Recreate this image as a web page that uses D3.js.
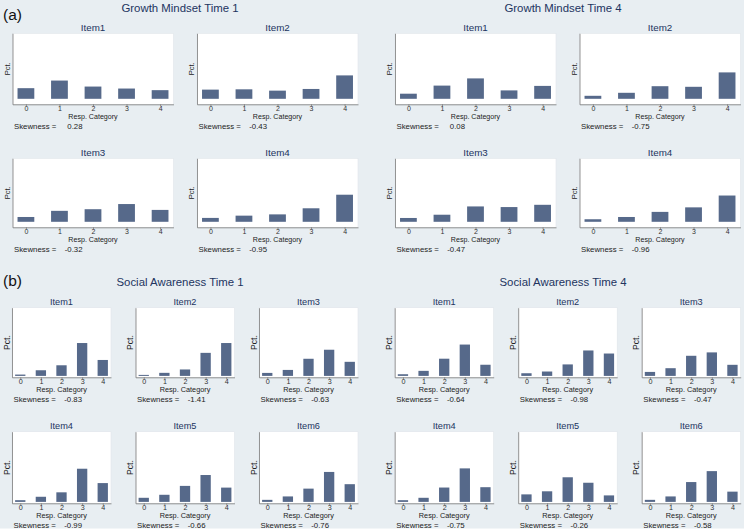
<!DOCTYPE html>
<html lang="en">
<head>
    <meta charset="utf-8">
    <style>
        body { margin: 0; background: #fff; }
        svg { display: block; font-family: "Liberation Sans", Arial, sans-serif; }
        .bar { fill: #56698a; }
        .axis path, .axis line { stroke: #7a7a7a; stroke-width: 0.8; }
        .axis text { fill: #333; }
    </style>
    <script src="https://cdn.jsdelivr.net/npm/d3@7"></script>
</head>
<body>
    <svg id="chart" width="744" height="531"></svg>
<script>
    // response categories
    var cats = [0, 1, 2, 3, 4];

    // percent per category
    var gmT1Items = ["Item1", "Item2", "Item3", "Item4"];
    var gmT1 = [
        [17.7, 30.4, 20.4, 17.1, 14.4],
        [15.3, 15.8, 13.6, 16.4, 39.0],
        [8.3, 18.9, 21.7, 30.6, 20.5],
        [6.7, 10.6, 12.8, 23.3, 46.7]
    ];
    var gmT1Skew = ["0.28", "-0.43", "-0.32", "-0.95"];

    var gmT4Items = ["Item1", "Item2", "Item3", "Item4"];
    var gmT4 = [
        [8.5, 22.0, 34.0, 14.0, 21.5],
        [5.0, 10.0, 21.0, 20.0, 44.0],
        [6.6, 12.2, 26.5, 25.4, 29.3],
        [4.4, 8.3, 17.1, 24.9, 45.3]
    ];
    var gmT4Skew = ["0.08", "-0.75", "-0.47", "-0.96"];

    var saT1Items = ["Item1", "Item2", "Item3", "Item4", "Item5", "Item6"];
    var saT1 = [
        [2.0, 8.5, 16.0, 49.5, 24.0],
        [1.5, 4.6, 9.7, 34.7, 49.5],
        [4.5, 9.0, 25.8, 39.4, 21.2],
        [2.5, 7.5, 14.0, 48.5, 27.5],
        [6.0, 10.4, 23.4, 39.3, 20.9],
        [3.0, 8.0, 19.4, 43.8, 25.9]
    ];
    var saT1Skew = ["-0.83", "-1.41", "-0.63", "-0.99", "-0.66", "-0.76"];

    var saT4Items = ["Item1", "Item2", "Item3", "Item4", "Item5", "Item6"];
    var saT4 = [
        [2.5, 7.6, 25.9, 47.2, 16.8],
        [4.0, 6.6, 17.3, 38.3, 33.7],
        [6.0, 11.6, 30.3, 35.4, 16.7],
        [2.5, 6.0, 21.0, 49.0, 21.5],
        [11.0, 15.5, 36.0, 28.0, 9.5],
        [3.0, 8.0, 29.0, 45.0, 15.0]
    ];
    var saT4Skew = ["-0.64", "-0.98", "-0.47", "-0.75", "-0.26", "-0.58"];

    var svg = d3.select("#chart");

    svg.append("rect")
       .attr("width", 744).attr("height", 528.5)
       .attr("fill", "#e8eef2");

    var navy = "#22345f";

    // one small histogram
    function drawPanel(x0, top, bottom, w, pad, vals, name, skew, big) {
        var g = svg.append("g").attr("transform", "translate(" + x0 + "," + top + ")");
        var h = bottom - top;

        var x = d3.scaleLinear().domain([-0.4, 4.4]).range([0, w]);
        var y = d3.scaleLinear().domain([0, 100]).range([h - pad[1], pad[0]]);

        g.append("rect")
         .attr("width", w).attr("height", h)
         .attr("fill", "#fff")
         .attr("stroke", "#dfe5ea").attr("stroke-width", 0.6);

        g.selectAll(".bar")
         .data(vals)
         .enter().append("rect")
         .attr("class", "bar")
         .attr("x", function(d, i) { return x(cats[i] - 0.25); })
         .attr("width", x(0.5) - x(0))
         .attr("y", function(d) { return y(d); })
         .attr("height", function(d) { return y(0) - y(d); });

        g.append("g")
         .attr("class", "axis")
         .attr("transform", "translate(0," + h + ")")
         .call(d3.axisBottom(x).tickValues(cats).tickFormat(d3.format("d"))
               .tickSize(2).tickSizeOuter(0))
         .call(function(a) {
             a.selectAll("text")
              .attr("y", 4.0).attr("dy", "0.36em")
              .style("font-size", big ? "7.2px" : "7px");
         });

        g.append("g")
         .attr("class", "axis")
         .call(d3.axisLeft(y.copy().range([h, 0])).tickValues([]).tickSizeOuter(0));

        g.append("text")
         .attr("transform", "translate(" + (-5.5) + "," + (h / 2) + ") rotate(-90)")
         .attr("text-anchor", "middle").attr("dominant-baseline", "central")
         .attr("font-size", big ? 8.6 : 7.6).attr("fill", "#222")
         .text("Pct.");

        g.append("text")
         .attr("x", w / 2).attr("y", -5.5)
         .attr("text-anchor", "middle").attr("dominant-baseline", "central")
         .attr("font-size", big ? 9.2 : 9.8).attr("fill", navy)
         .text(name);

        g.append("text")
         .attr("x", x(2)).attr("y", h + 12.6)
         .attr("text-anchor", "middle").attr("dominant-baseline", "central")
         .attr("font-size", big ? 7.3 : 7.1).attr("fill", "#222")
         .text("Resp. Category");

        g.append("text")
         .attr("x", 1.5).attr("y", h + 22.3)
         .attr("dominant-baseline", "central")
         .attr("font-size", 7.8).attr("fill", "#222")
         .text("Skewness =");

        g.append("text")
         .attr("x", 70).attr("y", h + 22.3)
         .attr("text-anchor", "end").attr("dominant-baseline", "central")
         .attr("font-size", 7.8).attr("fill", "#222")
         .text(skew);
    }

    function heading(txt, cx, cy) {
        svg.append("text")
           .attr("x", cx).attr("y", cy)
           .attr("text-anchor", "middle").attr("dominant-baseline", "central")
           .attr("font-size", 11.4).attr("fill", navy)
           .text(txt);
    }

    // (a) growth mindset, 2x2 grids
    var aCols = [12.5, 197];
    var aRows = [[33.3, 104.3], [158.3, 227.3]];
    var aW = 161;
    [[gmT1Items, gmT1, gmT1Skew, 0], [gmT4Items, gmT4, gmT4Skew, 382.5]].forEach(function(s) {
        s[1].forEach(function(v, i) {
            var r = aRows[Math.floor(i / 2)];
            drawPanel(aCols[i % 2] + s[3], r[0], r[1], aW, [5.5, 5.5], v, s[0][i], s[2][i], false);
        });
    });
    heading("Growth Mindset Time 1", 180, 7.5);
    heading("Growth Mindset Time 4", 563, 7.5);

    // (b) social awareness, 3x2 grids
    var bCols = [12, 135.5, 259];
    var bRows = [[307.7, 377.3], [431.7, 503.3]];
    var bW = 99;
    [[saT1Items, saT1, saT1Skew, 0], [saT4Items, saT4, saT4Skew, 382.7]].forEach(function(s) {
        s[1].forEach(function(v, i) {
            var r = bRows[Math.floor(i / 3)];
            drawPanel(bCols[i % 3] + s[3], r[0], r[1], bW, [1.8, 1.4], v, s[0][i], s[2][i], true);
        });
    });
    heading("Social Awareness Time 1", 180, 282.3);
    heading("Social Awareness Time 4", 563, 282.3);

    svg.append("text").attr("x", 3).attr("y", 14)
       .attr("dominant-baseline", "central")
       .attr("font-size", 15.5).attr("fill", "#111").text("(a)");
    svg.append("text").attr("x", 3).attr("y", 280)
       .attr("dominant-baseline", "central")
       .attr("font-size", 15.5).attr("fill", "#111").text("(b)");
</script>
</body>
</html>
